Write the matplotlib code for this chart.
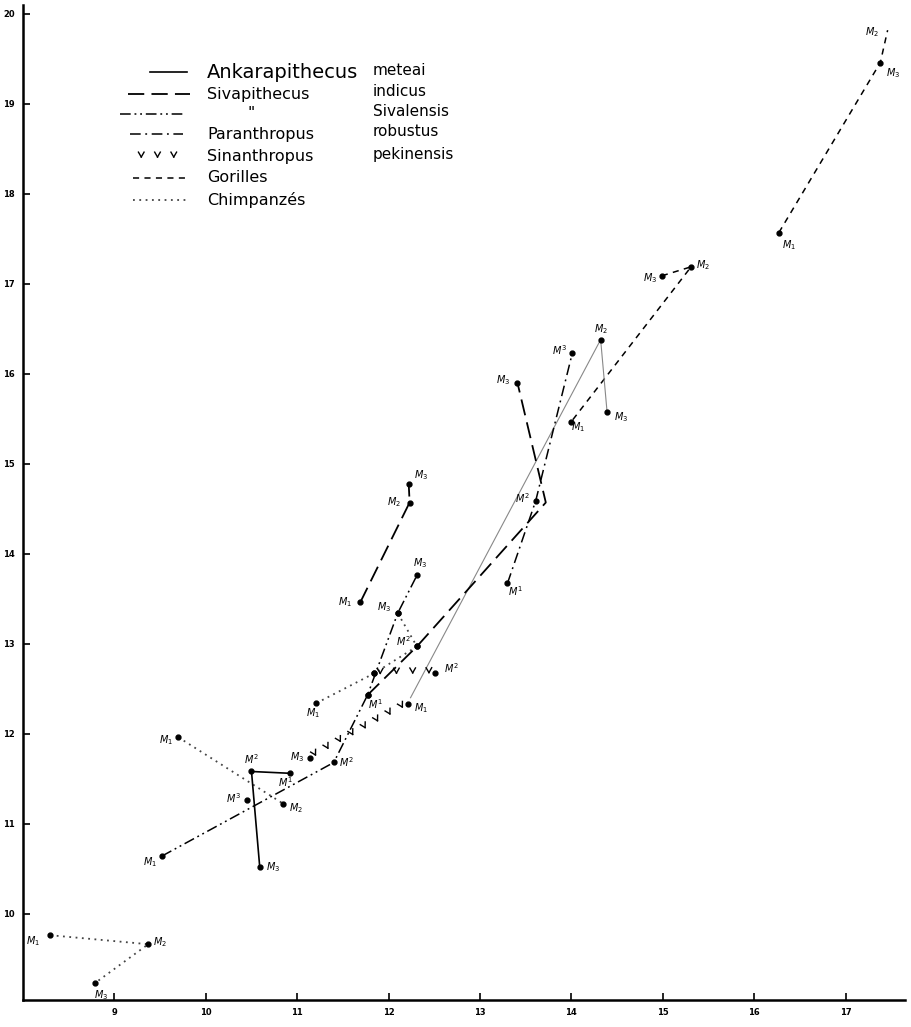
import numpy as np
import matplotlib.pyplot as plt
from matplotlib import patheffects as pe
from matplotlib.lines import Line2D

# --- données (x, y par molaire) ---
# Chimpanzés
chimp1_x = [8.30, 9.37, 8.79]
chimp1_y = [9.76, 9.66, 9.23]
chimp1_lab = ['$M_1$', '$M_2$', '$M_3$']

chimp2_x = [9.70, 10.85]
chimp2_y = [11.96, 11.22]
chimp2_lab = ['$M_1$', '$M_2$']

chimp3_x = [11.21, 11.84, 12.31, 12.10]
chimp3_y = [12.34, 12.67, 12.97, 13.34]
chimp3_lab = ['$M_1$', '', '$M^2$', '$M_3$']

# Gorilles
gor1_x = [16.27, 17.38, 17.46]
gor1_y = [17.57, 19.46, 19.82]
gor1_lab = ['$M_1$', '$M_3$', '$M_2$']

gor2_x = [14.99, 15.31, 14.00]
gor2_y = [17.09, 17.19, 15.47]
gor2_lab = ['$M_3$', '$M_2$', '$M_1$']

# Ankarapithecus meteai
ank1_x = [10.92, 10.50, 10.59]
ank1_y = [11.56, 11.58, 10.52]
ank1_lab = ['$M^1$', '$M^2$', '$M_3$']

ank2_x = [12.24, 14.32, 14.39]
ank2_y = [12.40, 16.38, 15.58]
ank2_lab = [None, '$M_2$', '$M_3$']

# Sivapithecus indicus
ind1_x = [11.69, 12.23, 12.22]
ind1_y = [13.46, 14.57, 14.78]
ind1_lab = ['$M_1$', '$M_2$', '$M_3$']

ind2_x = [11.77, 12.31, 13.72, 13.41]
ind2_y = [12.43, 12.97, 14.57, 15.90]
ind2_lab = ['', '', None, '$M_3$']

# Sivapithecus sivalensis
siv_x = [9.52, 11.40, 11.77, 12.10, 12.31]
siv_y = [10.64, 11.68, 12.43, 13.34, 13.76]
siv_lab = ['$M_1$', '$M^2$', '$M^1$', '', '$M_3$']

# point isolé
iso_x = [10.45]
iso_y = [11.26]
iso_lab = ['$M^3$']

# Paranthropus robustus
par_x = [13.30, 13.61, 14.01]
par_y = [13.67, 14.59, 16.23]
par_lab = ['$M^1$', '$M^2$', '$M^3$']

# Sinanthropus pekinensis
sin1_x = [11.84, 12.51]
sin1_y = [12.67, 12.68]
sin1_lab = ['', '$M^2$']

sin2_x = [11.14, 12.21]
sin2_y = [11.73, 12.33]
sin2_lab = ['$M_3$', '$M_1$']

xticks = [9, 10, 11, 12, 13, 14, 15, 16, 17]
yticks = [10, 11, 12, 13, 14, 15, 16, 17, 18, 19, 20]

genres = ['Ankarapithecus', 'Sivapithecus', '"', 'Paranthropus',
          'Sinanthropus', 'Gorilles', 'Chimpanzés']
especes = ['meteai', 'indicus', 'Sivalensis', 'robustus', 'pekinensis', '', '']

# décalage des étiquettes (pixels)
off = {
    'chimp1': [(-17, -6), (12, 2), (6, -12)],
    'chimp2': [(-12, -3), (12, -4)],
    'chimp3': [(-3, -10), (0, 0), (-14, 5), (-14, 6)],
    'gor1': [(10, -12), (13, -11), (-16, -2)],
    'gor2': [(-12, -2), (12, 2), (7, -6)],
    'ank1': [(-4, -9), (0, 12), (13, 0)],
    'ank2': [(0, 0), (0, 11), (14, -5)],
    'ind1': [(-15, 0), (-16, 0), (12, 9)],
    'ind2': [(0, 0), (0, 0), (0, 0), (-14, 3)],
    'siv': [(-12, -6), (13, 0), (8, -9), (0, 0), (3, 12)],
    'iso': [(-13, 2)],
    'par': [(8, -8), (-13, 3), (-13, 3)],
    'sin1': [(0, 0), (16, 4)],
    'sin2': [(-13, 1), (13, -4)],
}
# points sans pastille (fin de trait)
sans_point = {('gor1', 2)}

styles = {
    'ank': dict(color='k', lw=1.2, ls='-'),
    'ank_fin': dict(color='#888888', lw=0.8, ls='-'),
    'ind': dict(color='k', lw=1.3, ls=(0, (9, 4))),
    'siv': dict(color='k', lw=1.1, ls=(0, (7, 2.5, 1.2, 2.5, 1.2, 2.5))),
    'par': dict(color='k', lw=1.1, ls=(0, (7, 3, 1.2, 3))),
    'gor': dict(color='k', lw=1.1, ls=(0, (4, 3.5))),
    'chimp': dict(color='#444444', lw=1.3, ls=(0, (1, 2.5))),
}

vava = [pe.TickedStroke(spacing=9, angle=60, length=0.45),
        pe.TickedStroke(spacing=9, angle=120, length=0.45)]

fig = plt.figure(figsize=(9.12, 10.27), dpi=100)
ax = fig.add_axes([23 / 912, 27 / 1027, 882 / 912, 995 / 1027])

groupes = [
    (chimp1_x, chimp1_y, chimp1_lab, 'chimp1', 'chimp'),
    (chimp2_x, chimp2_y, chimp2_lab, 'chimp2', 'chimp'),
    (chimp3_x, chimp3_y, chimp3_lab, 'chimp3', 'chimp'),
    (gor1_x, gor1_y, gor1_lab, 'gor1', 'gor'),
    (gor2_x, gor2_y, gor2_lab, 'gor2', 'gor'),
    (ank1_x, ank1_y, ank1_lab, 'ank1', 'ank'),
    (ank2_x, ank2_y, ank2_lab, 'ank2', 'ank_fin'),
    (ind1_x, ind1_y, ind1_lab, 'ind1', 'ind'),
    (ind2_x, ind2_y, ind2_lab, 'ind2', 'ind'),
    (siv_x, siv_y, siv_lab, 'siv', 'siv'),
    (iso_x, iso_y, iso_lab, 'iso', None),
    (par_x, par_y, par_lab, 'par', 'par'),
    (sin1_x, sin1_y, sin1_lab, 'sin1', 'sin'),
    (sin2_x, sin2_y, sin2_lab, 'sin2', 'sin'),
]

for xs, ys, labs, nom, st in groupes:
    if st == 'sin':
        ax.plot(xs, ys, color='k', lw=1.0, path_effects=vava)
    elif st is not None:
        ax.plot(xs, ys, **styles[st])
    for i in range(len(xs)):
        if labs[i] is None:
            continue
        if (nom, i) not in sans_point:
            ax.plot(xs[i], ys[i], 'o', color='k', ms=3.5)
        if labs[i]:
            ax.annotate(labs[i], (xs[i], ys[i]), xytext=off[nom][i],
                        textcoords='offset pixels', ha='center', va='center',
                        fontsize=7, fontweight='bold')

ax.set_xlim(8.0, 17.65)
ax.set_ylim(9.04, 20.1)
ax.set_xticks(xticks)
ax.set_yticks(yticks)
ax.set_xticklabels([str(t) for t in xticks], fontsize=6, fontweight='bold')
ax.set_yticklabels([str(t) for t in yticks], fontsize=6, fontweight='bold')
ax.tick_params(direction='in', length=5, width=1.2, pad=6)
for s in ['top', 'right']:
    ax.spines[s].set_visible(False)
for s in ['left', 'bottom']:
    ax.spines[s].set_linewidth(1.8)

# légende dessinée à la main
lignes_y = [72, 94, 114, 134, 157, 178, 200]
lignes_x = [(150, 187), (128, 190), (120, 185), (130, 183), (135, 180), (133, 187), (133, 187)]
styles_leg = ['ank', 'ind', 'siv', 'par', 'sin', 'gor', 'chimp']
for k in range(len(genres)):
    x0, x1 = lignes_x[k]
    yy = 1 - lignes_y[k] / 1027
    st = styles_leg[k]
    if st == 'sin':
        l = Line2D([x0 / 912, x1 / 912], [yy, yy], color='k', lw=1.0,
                   path_effects=vava, transform=fig.transFigure)
    else:
        l = Line2D([x0 / 912, x1 / 912], [yy, yy], transform=fig.transFigure, **styles[st])
    fig.add_artist(l)
    taille = 14 if k == 0 else 11.5
    gx = 248 if genres[k] == '"' else 207
    fig.text(gx / 912, yy, genres[k], fontsize=taille, va='center', ha='left')
    if especes[k]:
        fig.text(373 / 912, yy + 2 / 1027, especes[k], fontsize=11, va='center', ha='left')

fig.savefig('out.png', dpi=100)
